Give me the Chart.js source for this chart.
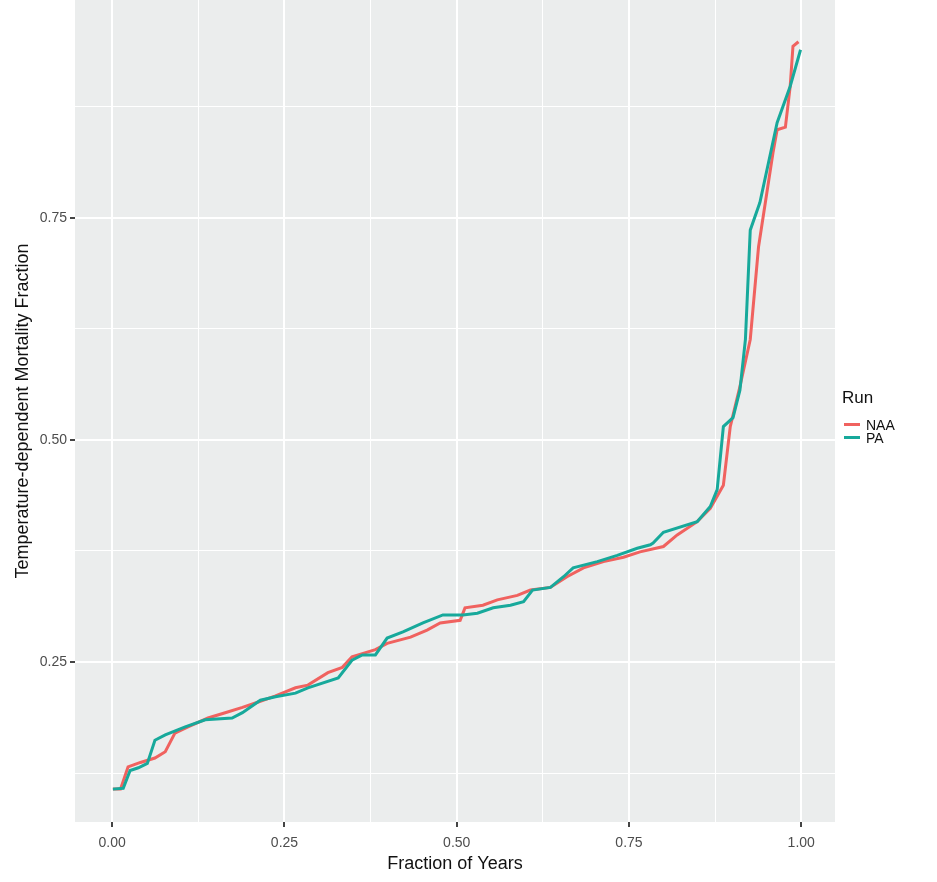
<!DOCTYPE html>
<html lang="en">
<head>
    <meta charset="UTF-8">
    <title>Temperature-dependent Mortality Fraction</title>
    <style>
        body {
            margin: 0;
            padding: 0;
            background-color: #fff;
            font-family: "Liberation Sans", Arial, sans-serif;
        }
        .wrap {
            position: relative;
            width: 937px;
            height: 882px;
        }
        /* legend, right of the panel */
        .legend {
            position: absolute;
            left: 842px;
            top: 388px;
            color: #111;
        }
        .legend h4 {
            margin: 0 0 10px 0;
            font-weight: normal;
            font-size: 17px;
        }
        .legend .item {
            display: flex;
            align-items: center;
            height: 13px;
            font-size: 14px;
        }
        .legend .key {
            width: 16px;
            height: 3px;
            margin: 0 6px 0 2px;
        }
    </style>
    <script src="https://cdn.jsdelivr.net/npm/chart.js"></script>
</head>
<body>
    <div class="wrap">
        <canvas id="mortalityChart" width="937" height="882"></canvas>
        <div class="legend" id="legend"><h4>Run</h4></div>
    </div>

    <script>
        // series names and colours
        const runNames = ['NAA', 'PA'];
        const runColors = ['#F0625F', '#17A99B'];

        // NAA run: fraction of years / mortality fraction
        const naaX = [0.001, 0.012, 0.023, 0.041, 0.062, 0.077, 0.091, 0.110, 0.139, 0.164,
                      0.189, 0.212, 0.237, 0.266, 0.284, 0.313, 0.334, 0.348, 0.382, 0.399,
                      0.433, 0.457, 0.476, 0.505, 0.512, 0.538, 0.559, 0.588, 0.607, 0.636,
                      0.660, 0.684, 0.713, 0.742, 0.766, 0.800, 0.820, 0.849, 0.868, 0.887,
                      0.897, 0.911, 0.926, 0.938, 0.959, 0.965, 0.977, 0.984, 0.988, 0.996];
        const naaY = [0.107, 0.107, 0.132, 0.137, 0.142, 0.149, 0.170, 0.177, 0.187, 0.193,
                      0.199, 0.205, 0.212, 0.221, 0.224, 0.238, 0.244, 0.256, 0.264, 0.271,
                      0.278, 0.286, 0.294, 0.297, 0.311, 0.314, 0.320, 0.325, 0.331, 0.334,
                      0.346, 0.356, 0.363, 0.368, 0.374, 0.380, 0.393, 0.408, 0.423, 0.449,
                      0.515, 0.560, 0.613, 0.717, 0.823, 0.849, 0.852, 0.898, 0.943, 0.948];

        // PA run
        const paX = [0.001, 0.016, 0.026, 0.038, 0.051, 0.062, 0.077, 0.106, 0.135, 0.174,
                     0.189, 0.215, 0.237, 0.266, 0.284, 0.328, 0.348, 0.363, 0.382, 0.399,
                     0.422, 0.451, 0.480, 0.509, 0.530, 0.553, 0.578, 0.597, 0.610, 0.636,
                     0.655, 0.669, 0.704, 0.733, 0.762, 0.781, 0.785, 0.800, 0.849, 0.868,
                     0.878, 0.887, 0.901, 0.911, 0.919, 0.926, 0.940, 0.965, 0.984, 0.999];
        const paY = [0.107, 0.108, 0.128, 0.131, 0.136, 0.162, 0.168, 0.177, 0.185, 0.187,
                     0.193, 0.207, 0.211, 0.215, 0.221, 0.232, 0.252, 0.258, 0.258, 0.277,
                     0.284, 0.294, 0.303, 0.303, 0.305, 0.311, 0.314, 0.318, 0.331, 0.334,
                     0.346, 0.356, 0.363, 0.370, 0.378, 0.382, 0.384, 0.396, 0.408, 0.425,
                     0.444, 0.515, 0.525, 0.556, 0.613, 0.736, 0.767, 0.857, 0.898, 0.939];

        // axis ticks (major labelled, minor only as grid)
        const xTicks = [0, 0.125, 0.25, 0.375, 0.5, 0.625, 0.75, 0.875, 1];
        const yTicks = [0.125, 0.25, 0.375, 0.5, 0.625, 0.75, 0.875];
        const majorTicks = [0, 0.25, 0.5, 0.75, 1];

        function toPoints(xs, ys) {
            return xs.map((x, i) => ({ x: x, y: ys[i] }));
        }
        function isMajor(v) {
            return majorTicks.some(m => Math.abs(m - v) < 1e-9);
        }

        // grey panel behind the plot
        const panelBg = {
            id: 'panelBg',
            beforeDraw(chart) {
                const a = chart.chartArea;
                const c = chart.ctx;
                c.save();
                c.fillStyle = '#EBEDED';
                c.fillRect(a.left, a.top, a.right - a.left, a.bottom - a.top);
                c.restore();
            }
        };

        const gridOpts = {
            color: '#FFFFFF',
            lineWidth: ctx => (ctx.tick && isMajor(ctx.tick.value)) ? 2 : 1,
            tickColor: ctx => (ctx.tick && isMajor(ctx.tick.value)) ? '#444' : 'rgba(0,0,0,0)',
            tickLength: 5,
            drawOnChartArea: true
        };

        const ctxMort = document.getElementById('mortalityChart').getContext('2d');
        new Chart(ctxMort, {
            type: 'line',
            data: {
                datasets: [
                    {
                        label: runNames[0],
                        data: toPoints(naaX, naaY),
                        borderColor: runColors[0],
                        borderWidth: 3,
                        pointRadius: 0,
                        tension: 0,
                        order: 2
                    },
                    {
                        label: runNames[1],
                        data: toPoints(paX, paY),
                        borderColor: runColors[1],
                        borderWidth: 3,
                        pointRadius: 0,
                        tension: 0,
                        order: 1
                    }
                ]
            },
            options: {
                responsive: false,
                animation: false,
                layout: { padding: { top: 0, right: 102, left: 0, bottom: 0 } },
                plugins: {
                    legend: { display: false },
                    tooltip: { enabled: false }
                },
                scales: {
                    x: {
                        type: 'linear',
                        min: -0.054,
                        max: 1.049,
                        afterBuildTicks: s => { s.ticks = xTicks.map(v => ({ value: v })); },
                        afterFit: s => { s.height = 60; s.paddingLeft = 0; s.paddingRight = 0; },
                        border: { display: false },
                        grid: gridOpts,
                        ticks: {
                            color: '#4D4D4D',
                            font: { family: 'Liberation Sans', size: 14 },
                            padding: 8,
                            maxRotation: 0,
                            autoSkip: false,
                            callback: v => isMajor(v) ? v.toFixed(2) : ''
                        },
                        title: {
                            display: true,
                            text: 'Fraction of Years',
                            color: '#111',
                            font: { family: 'Liberation Sans', size: 18 },
                            padding: { top: 0, bottom: 7 }
                        }
                    },
                    y: {
                        type: 'linear',
                        min: 0.07,
                        max: 0.995,
                        afterBuildTicks: s => { s.ticks = yTicks.map(v => ({ value: v })); },
                        afterFit: s => { s.width = 75; s.paddingTop = 0; s.paddingBottom = 0; },
                        border: { display: false },
                        grid: gridOpts,
                        ticks: {
                            color: '#4D4D4D',
                            font: { family: 'Liberation Sans', size: 14 },
                            padding: 3,
                            autoSkip: false,
                            callback: v => isMajor(v) ? v.toFixed(2) : ''
                        },
                        title: {
                            display: true,
                            text: 'Temperature-dependent Mortality Fraction',
                            color: '#111',
                            font: { family: 'Liberation Sans', size: 18 },
                            padding: { top: 12, bottom: 0 }
                        }
                    }
                }
            },
            plugins: [panelBg]
        });

        // legend built from the series arrays
        const legendEl = document.getElementById('legend');
        runNames.forEach((name, i) => {
            const row = document.createElement('div');
            row.className = 'item';
            const key = document.createElement('span');
            key.className = 'key';
            key.style.backgroundColor = runColors[i];
            const txt = document.createElement('span');
            txt.textContent = name;
            row.appendChild(key);
            row.appendChild(txt);
            legendEl.appendChild(row);
        });
    </script>
</body>
</html>
